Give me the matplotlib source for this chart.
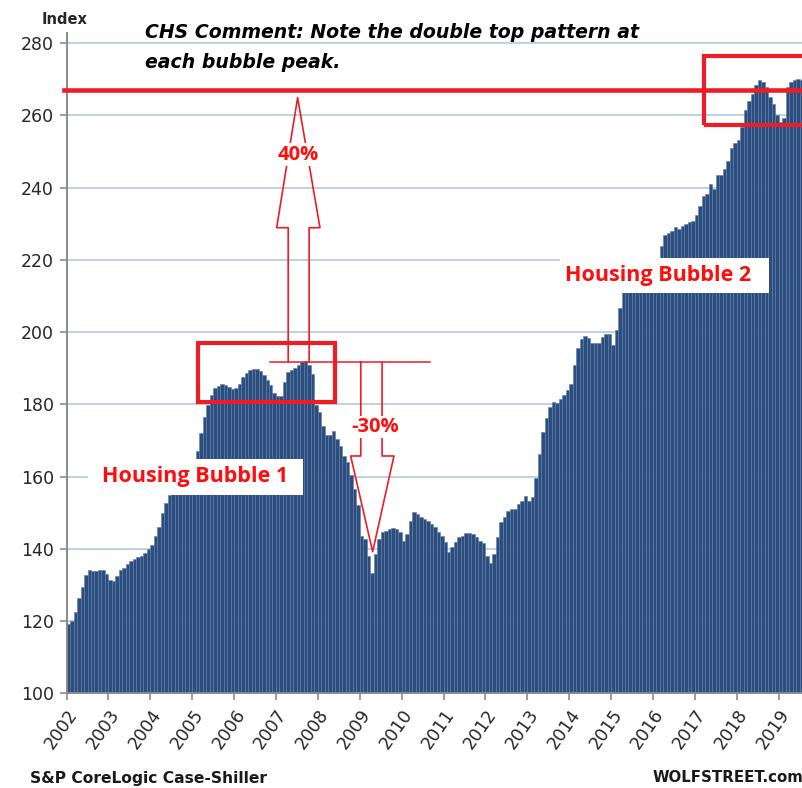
import matplotlib.pyplot as plt
from matplotlib.patches import Rectangle
import numpy as np

# S&P CoreLogic Case-Shiller index, monthly, Jan 2002 - Jul 2019
index_values = [
    119.1, 120.0, 122.5, 126.5, 129.5, 132.7, 134.0, 133.8, 133.8, 134.0, 134.0, 133.0,  # 2002
    131.5, 131.0, 132.5, 134.0, 134.6, 135.8, 136.7, 137.2, 137.6, 138.0, 138.8, 140.0,  # 2003
    141.0, 143.6, 146.0, 150.0, 152.8, 155.0, 156.5, 158.0, 159.0, 160.0, 161.0, 162.5,  # 2004
    164.0, 167.0, 172.0, 176.4, 179.8, 182.7, 184.4, 185.1, 185.7, 185.3, 184.8, 184.2,  # 2005
    184.4, 185.5, 187.5, 188.8, 189.5, 189.9, 189.8, 189.3, 188.0, 186.7, 185.3, 183.0,  # 2006
    182.3, 182.3, 186.2, 189.0, 189.4, 190.1, 190.8, 191.8, 192.0, 190.8, 188.5, 179.7,  # 2007
    178.0, 174.0, 171.6, 171.4, 172.5, 170.5, 168.6, 165.8, 164.0, 160.3, 156.6, 152.0,  # 2008
    143.6, 142.7, 138.0, 133.4, 138.5, 142.7, 144.6, 145.0, 145.5, 145.7, 145.5, 144.7,  # 2009
    142.2, 144.1, 147.8, 150.1, 149.6, 148.7, 148.2, 147.8, 146.9, 146.0, 144.6, 143.6,  # 2010
    141.8, 139.0, 140.4, 141.8, 143.4, 143.6, 144.4, 144.4, 144.1, 143.3, 142.2, 141.6,  # 2011
    138.1, 136.2, 138.5, 143.2, 147.3, 148.7, 150.6, 151.0, 151.0, 152.4, 153.3, 154.7,  # 2012
    153.3, 154.3, 159.6, 166.3, 172.3, 176.2, 179.3, 180.7, 180.5, 181.6, 182.5, 183.9,  # 2013
    185.5, 190.8, 195.7, 198.1, 199.0, 198.5, 196.9, 196.9, 196.9, 198.7, 199.4, 199.4,  # 2014
    196.4, 200.6, 206.6, 211.0, 212.4, 213.5, 214.3, 215.8, 216.5, 217.6, 218.2, 219.3,  # 2015
    219.8, 220.5, 223.9, 227.0, 227.4, 228.1, 229.0, 228.5, 229.5, 229.8, 230.4, 230.8,  # 2016
    232.5, 235.0, 237.8, 238.3, 240.9, 239.7, 243.4, 243.4, 245.2, 247.5, 251.0, 252.3,  # 2017
    253.3, 256.8, 261.4, 264.0, 266.0, 268.3, 269.9, 269.2, 267.8, 265.1, 263.2, 260.0,  # 2018
    258.2, 259.4, 267.8, 269.2, 269.9, 270.2, 269.9,                                      # 2019
]
years = list(range(2002, 2020))
y_ticks = list(range(100, 281, 20))

RED = '#ee1c25'
TEXT_RED = '#ff0d0d'
BAR = '#2d4d7c'
LABEL_FONT = 'Open Sans'

fig = plt.figure(figsize=(8.03, 7.88), dpi=100)
ax = fig.add_axes([0.0829, 0.1202, 0.9171, 0.8379])

months = np.arange(len(index_values)) + 0.5
ax.bar(months, index_values, width=1.0, color=BAR, edgecolor='#5a7db0',
       linewidth=0.4, zorder=2)

ax.set_xlim(0, 211)
ax.set_ylim(100, 282.8)
ax.set_yticks(y_ticks)
ax.set_xticks([12 * k for k in range(len(years))])
ax.set_xticklabels([str(y) for y in years], rotation=55, ha='right',
                   rotation_mode='anchor')
ax.yaxis.grid(True, color='#b9cde5', linewidth=1.3)
ax.set_axisbelow(True)
for side in ['top', 'right']:
    ax.spines[side].set_visible(False)
for side in ['left', 'bottom']:
    ax.spines[side].set_color('#8a8a8a')
    ax.spines[side].set_linewidth(1.4)
ax.tick_params(axis='both', direction='out', length=5, width=1.2,
               color='#8a8a8a', labelsize=12.5, labelcolor='#262626', pad=4)

# annotations
ax.axhline(267.0, xmin=-0.003, xmax=1, color=RED, linewidth=3.3, zorder=4,
           clip_on=False)
ax.add_patch(Rectangle((182.5, 257.2), 40, 19.1, fill=False, edgecolor=RED,
                       linewidth=3.0, zorder=4))
ax.add_patch(Rectangle((37.6, 180.7), 39.3, 16.3, fill=False, edgecolor=RED,
                       linewidth=3.0, zorder=4))
ax.plot([58.2, 104.1], [191.7, 191.7], color=RED, linewidth=1.1, zorder=4)

# up arrow (+40%)
ax.plot([63.5, 63.5, 60.2, 66.2, 72.6, 69.5, 69.5],
        [191.7, 228.9, 228.9, 264.9, 228.9, 228.9, 191.7],
        color=RED, linewidth=1.2, zorder=4)
ax.text(66.3, 249.1, '40%', color=TEXT_RED, fontsize=14.5, fontweight='bold',
        family=LABEL_FONT, ha='center', va='center', zorder=5,
        bbox=dict(facecolor='white', edgecolor='none', pad=1.0))

# down arrow (-30%)
ax.plot([84.3, 84.3, 81.4, 87.7, 93.8, 90.4, 90.4],
        [191.7, 165.7, 165.7, 139.2, 165.7, 165.7, 191.7],
        color=RED, linewidth=1.2, zorder=4)
ax.text(88.3, 173.7, '-30%', color=TEXT_RED, fontsize=14.5, fontweight='bold',
        family=LABEL_FONT, ha='center', va='center', zorder=5,
        bbox=dict(facecolor='white', edgecolor='none', pad=1.0))

# labelled boxes
ax.add_patch(Rectangle((6.1, 154.9), 61.6, 10.0, facecolor='white',
                       edgecolor='none', zorder=5))
ax.text(36.9, 159.9, 'Housing Bubble 1', color=TEXT_RED, fontsize=15.5,
        fontweight='bold', family=LABEL_FONT, ha='center', va='center', zorder=6)
ax.add_patch(Rectangle((141.3, 210.9), 60.1, 9.7, facecolor='white',
                       edgecolor='none', zorder=5))
ax.text(169.4, 215.6, 'Housing Bubble 2', color=TEXT_RED, fontsize=15.5,
        fontweight='bold', family=LABEL_FONT, ha='center', va='center', zorder=6)

# figure texts
fig.text(145 / 803, 1 - 38 / 788, 'CHS Comment: Note the double top pattern at',
         fontsize=13.6, fontweight='bold', style='italic', family='DejaVu Sans',
         va='baseline')
fig.text(145 / 803, 1 - 68.5 / 788, 'each bubble peak.',
         fontsize=13.6, fontweight='bold', style='italic', family='DejaVu Sans',
         va='baseline')
fig.text(42 / 803, 1 - 20 / 788, 'Index', fontsize=10.5, fontweight='bold',
         color='#262626', va='center')
fig.text(30 / 803, 1 - 778 / 788, 'S&P CoreLogic Case-Shiller', fontsize=11.2,
         fontweight='bold', color='#1a1a1a', va='center')
fig.text(1.0, 1 - 778 / 788, 'WOLFSTREET.com', fontsize=10.8,
         fontweight='bold', color='#1a1a1a', va='center', ha='right')

fig.savefig('out.png', dpi=100)
